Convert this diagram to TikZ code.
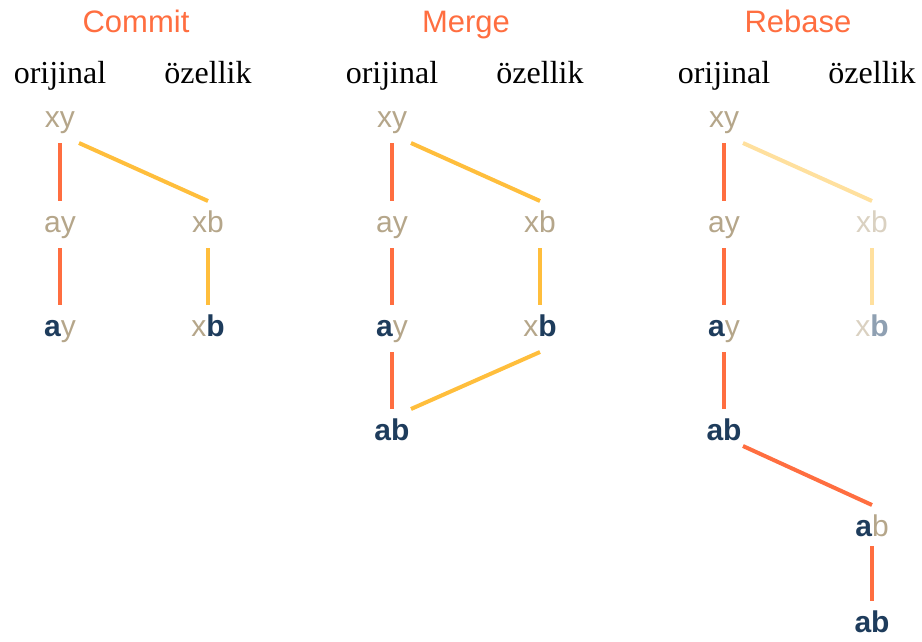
\documentclass[tikz,border=0pt]{standalone}
\usepackage{fontspec}
\setmainfont{Liberation Serif}
\newfontfamily\sansfam{Liberation Sans}
\definecolor{cRed}{RGB}{255,110,64}
\definecolor{cYellow}{RGB}{255,190,60}
\definecolor{cYellowLight}{RGB}{255,224,158}
\definecolor{cTan}{RGB}{181,166,138}
\definecolor{cTanLight}{RGB}{218,209,193}
\definecolor{cNavy}{RGB}{30,60,92}
\definecolor{cNavyLight}{RGB}{143,160,178}
% changed letters are set bold in navy
\newcommand\chg[1]{{\color{cNavy}\bfseries #1}}
\newcommand\chglight[1]{{\color{cNavyLight}\bfseries #1}}
\begin{document}
\begin{tikzpicture}[x=1pt,y=-1pt,
  title/.style={font=\sansfam\fontsize{31}{31}\selectfont, text=cRed, anchor=base, inner sep=0pt},
  branchlabel/.style={font=\fontsize{32}{32}\selectfont, anchor=base, inner sep=0pt},
  commitnode/.style={font=\sansfam\fontsize{30}{30}\selectfont, text=cTan, anchor=base,
    inner sep=0pt, text height=21pt, text depth=6pt, outer ysep=10pt},
  ghostnode/.style={commitnode, text=cTanLight},
  mainline/.style={line width=4pt, draw=cRed},
  featline/.style={line width=4pt, draw=cYellow},
  ghostline/.style={line width=4pt, draw=cYellowLight},
]
\useasboundingbox (0,0) rectangle (922,641);

% ---------- Commit ----------
\node[title] (t1) at (136,32) {Commit};
\node[branchlabel] (o1) at (60,83) {orijinal};
\node[branchlabel] (f1) at (208,83) {özellik};
\node[commitnode] (c1xy) at (60,127) {xy};
\node[commitnode] (c1ay) at (60,232) {ay};
\node[commitnode] (c1xb) at (208,232) {xb};
\node[commitnode] (c1a) at (60,336) {\chg{a}y};
\node[commitnode] (c1b) at (208,336) {x\chg{b}};
\draw[mainline] (c1xy.south) -- (c1ay.north);
\draw[featline] ([xshift=19pt]c1xy.south) -- (c1xb.north);
\draw[mainline] (c1ay.south) -- (c1a.north);
\draw[featline] (c1xb.south) -- (c1b.north);

% ---------- Merge ----------
\node[title] (t2) at (466,32) {Merge};
\node[branchlabel] (o2) at (392,83) {orijinal};
\node[branchlabel] (f2) at (540,83) {özellik};
\node[commitnode] (c2xy) at (392,127) {xy};
\node[commitnode] (c2ay) at (392,232) {ay};
\node[commitnode] (c2xb) at (540,232) {xb};
\node[commitnode] (c2a) at (392,336) {\chg{a}y};
\node[commitnode] (c2b) at (540,336) {x\chg{b}};
\node[commitnode] (c2ab) at (392,440) {\chg{ab}};
\draw[mainline] (c2xy.south) -- (c2ay.north);
\draw[featline] ([xshift=19pt]c2xy.south) -- (c2xb.north);
\draw[mainline] (c2ay.south) -- (c2a.north);
\draw[featline] (c2xb.south) -- (c2b.north);
\draw[mainline] (c2a.south) -- (c2ab.north);
\draw[featline] (c2b.south) -- ([xshift=19pt]c2ab.north);

% ---------- Rebase ----------
\node[title] (t3) at (798,32) {Rebase};
\node[branchlabel] (o3) at (724,83) {orijinal};
\node[branchlabel] (f3) at (872,83) {özellik};
\node[commitnode] (c3xy) at (724,127) {xy};
\node[commitnode] (c3ay) at (724,232) {ay};
\node[ghostnode] (c3xb) at (872,232) {xb};
\node[commitnode] (c3a) at (724,336) {\chg{a}y};
\node[ghostnode] (c3b) at (872,336) {x\chglight{b}};
\node[commitnode] (c3ab) at (724,440) {\chg{ab}};
\node[commitnode] (c3ab2) at (872,536) {\chg{a}b};
\node[commitnode] (c3ab3) at (872,632) {\chg{ab}};
\draw[mainline] (c3xy.south) -- (c3ay.north);
\draw[ghostline] ([xshift=19pt]c3xy.south) -- (c3xb.north);
\draw[mainline] (c3ay.south) -- (c3a.north);
\draw[ghostline] (c3xb.south) -- (c3b.north);
\draw[mainline] (c3a.south) -- (c3ab.north);
\draw[mainline] ([xshift=19pt,yshift=10pt]c3ab.south) -- (c3ab2.north);
\draw[mainline] ([yshift=6pt]c3ab2.south) -- (c3ab3.north);
\end{tikzpicture}
\end{document}
